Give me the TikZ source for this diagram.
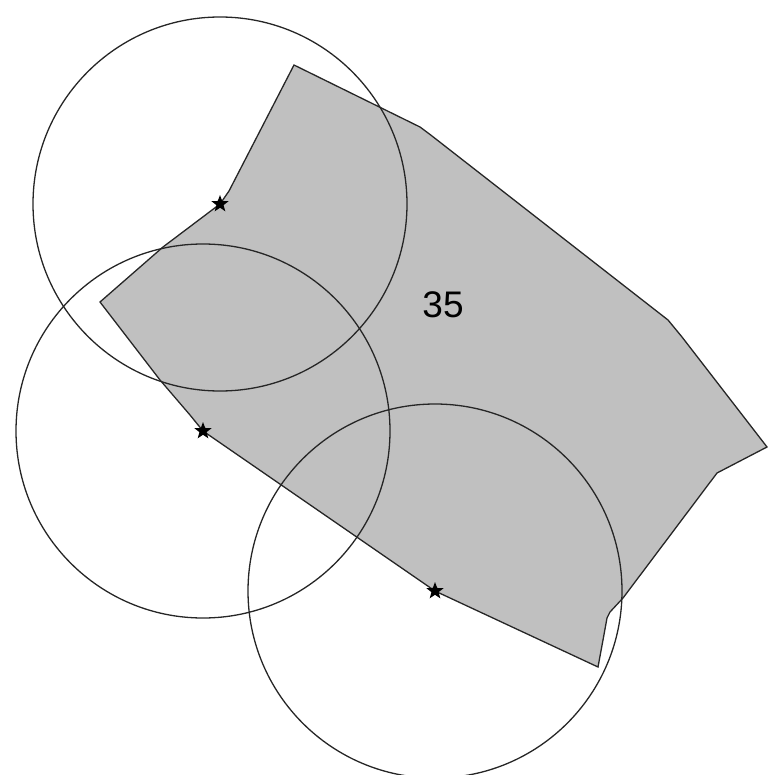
\documentclass[tikz,border=0pt]{standalone}
\usepackage{fontspec}
\setmainfont{Liberation Sans}
\usetikzlibrary{shapes.geometric}
\definecolor{parcel}{RGB}{192,192,192}

\begin{document}
\begin{tikzpicture}[x=0.5pt, y=-0.5pt, line width=0.65pt,
		every node/.style={font=\fontsize{18.5}{22}\selectfont},
		site/.style={star, star points=5, star point ratio=2.4, fill=black, inner sep=0pt, minimum size=9pt},
		reach/.style={draw=black!85}]
		\useasboundingbox (0,0) rectangle (767,775);
		% parcel outline
		\draw[fill=parcel, draw=black!85] (294,65) -- (420,127) -- (432,136) -- (668,320) -- (682,337)
			-- (767,447) -- (717,473) -- (623,598) -- (610,612) -- (607,618) -- (603,640) -- (598,667)
			-- (435,591) -- (203,431) -- (190,415) -- (160,380) -- (100,302) -- (163,247) -- (220,204)
			-- (229,191) -- cycle;
		\node (lbl) at (443,305) {35};
		\node[site] (s1) at (220,204) {};
		\node[site] (s2) at (203,431) {};
		\node[site] (s3) at (435,591) {};
		\draw[reach] (s1.center) circle[radius=93.5pt];
		\draw[reach] (s2.center) circle[radius=93.5pt];
		\draw[reach] (s3.center) circle[radius=93.5pt];
	\end{tikzpicture}
\end{document}
